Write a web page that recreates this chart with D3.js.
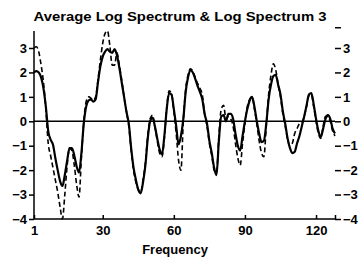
<!DOCTYPE html>
<html>
<head>
<meta charset="utf-8">
<script src="https://cdn.jsdelivr.net/npm/d3@7"></script>
<style>
  body { margin: 0; background: #fff; }
  text { font-family: Arial, "Liberation Sans", sans-serif; font-weight: bold; fill: #000; }
</style>
</head>
<body>
<div id="chart"></div>
<script>
// average log spectrum (solid), frequency 1..128
const avgSpectrum = [
  2.0, 2.05, 2.0, 1.8, 1.35, 0.6, -0.4, -0.75, -0.95, -1.5,
  -2.0, -2.45, -2.65, -2.2, -1.6, -1.1, -1.1, -1.4, -1.85, -2.1,
  -1.3, -0.1, 0.6, 0.85, 0.9, 0.8, 0.9, 1.6, 2.25, 2.65,
  2.85, 2.95, 2.85, 2.8, 2.95, 2.7, 2.2, 1.6, 1.0, 0.4,
  -0.1, -1.1, -1.9, -2.4, -2.8, -2.95, -2.5, -1.8, -0.7, 0.0,
  0.15, -0.2, -0.7, -1.15, -1.35, -0.6, 0.5, 1.15, 1.1, 0.5,
  -0.2, -0.95, -0.6, 0.1, 1.2, 1.8, 2.1, 2.0, 1.75, 1.45,
  1.2, 0.9, 0.3, -0.1, -0.8, -1.3, -1.9, -2.2, -0.8, 0.2,
  0.25, 0.0, 0.3, 0.3, 0.1, -0.5, -1.0, -1.2, -0.6, 0.0,
  0.5, 0.85, 1.0, 0.6, 0.0, -0.5, -0.85, -0.8, -0.1, 0.9,
  1.5, 1.85, 1.9, 1.5, 1.1, 0.4, -0.1, -0.7, -1.1, -1.3,
  -1.25, -0.9, -0.6, -0.2, 0.2, 0.65, 1.1, 1.15, 0.7, 0.1,
  -0.4, -0.65, -0.3, 0.1, 0.25, 0.1, -0.3, -0.5
];
// log spectrum 3 (dashed)
const logSpectrum3 = [
  3.0, 3.05, 2.85, 2.3, 1.6, 0.5, -0.9, -1.4, -1.9, -2.4,
  -2.9, -3.5, -4.0, -3.0, -1.8, -1.1, -1.2, -1.8, -2.6, -3.1,
  -1.5, 0.0, 0.8, 1.0, 0.95, 0.85, 1.0, 1.7, 2.5, 3.2,
  3.6, 3.7, 3.1, 2.3, 2.3, 2.8, 2.3, 1.7, 1.0, 0.4,
  -0.2, -1.2, -2.0, -2.5, -2.8, -2.9, -2.4, -1.7, -0.6, 0.1,
  0.25, -0.2, -0.8, -1.3, -1.45, -0.7, 0.55, 1.25, 1.15, 0.4,
  -0.5, -1.6, -2.0, 0.0, 1.3, 1.9, 2.15, 2.05, 1.8, 1.55,
  1.35, 1.1, 0.3, -0.2, -0.9, -1.4, -2.0, -2.1, -0.6, 0.5,
  0.65, 0.1, 0.2, 0.1, -0.2, -0.9, -1.5, -1.8, -0.9, -0.1,
  0.6, 0.9, 1.0, 0.5, -0.1, -0.8, -1.3, -1.45, -0.2, 1.1,
  1.9, 2.35, 2.1, 1.5, 1.0, 0.3, -0.2, -0.75, -1.0, -0.9,
  -0.5, -0.3, -0.1, -0.05, 0.2, 0.6, 1.05, 1.1, 0.6, 0.0,
  -0.5, -0.7, -0.2, 0.2, 0.2, 0.0, -0.4, -0.6
];
const xTicks = [1, 30, 60, 90, 120, 128];
const xTickLabels = ["1", "30", "60", "90", "120", ""];
const yTicks = [3, 2, 1, 0, -1, -2, -3, -4];
const titleText = "Average Log Spectrum & Log Spectrum 3";
const xTitle = "Frequency";

const width = 360, height = 263;
const margin = {left: 34, right: 25, top: 31, bottom: 44};

const svg = d3.select("#chart").append("svg")
  .attr("width", width)
  .attr("height", height);

const x = d3.scaleLinear().domain([1, 128]).range([margin.left, width - margin.right]);
const y = d3.scaleLinear().domain([-4, 3]).range([219, 48]);

// title
svg.append("text")
  .attr("x", 180)
  .attr("y", 21)
  .attr("text-anchor", "middle")
  .style("font-size", "13.5px")
  .attr("textLength", 293)
  .attr("lengthAdjust", "spacingAndGlyphs")
  .text(titleText);

// left axis
const leftAxis = svg.append("g")
  .attr("transform", `translate(${margin.left},0)`)
  .call(d3.axisLeft(y).tickValues(yTicks).tickSize(5).tickPadding(2).tickFormat(d3.format("d")));
leftAxis.select(".domain").attr("d", `M0,${y(3.7)}V${y(-4)}`).attr("stroke-width", 1.5);
leftAxis.selectAll(".tick line").attr("stroke-width", 1.5);
leftAxis.selectAll("text").style("font-size", "13px").style("font-family", "Arial, 'Liberation Sans', sans-serif");

// right ticks only (no line)
const rightAxis = svg.append("g")
  .attr("transform", `translate(${x(128)},0)`)
  .call(d3.axisRight(y).tickValues(yTicks.concat([3.85])).tickSize(6).tickPadding(2)
    .tickFormat(d => d > 3.5 ? "" : d3.format("d")(d)));
rightAxis.select(".domain").remove();
rightAxis.selectAll(".tick line").attr("stroke-width", 1.5);
rightAxis.selectAll("text").style("font-size", "13px").style("font-family", "Arial, 'Liberation Sans', sans-serif");

// bottom axis, ticks pointing up
const bottomAxis = svg.append("g")
  .attr("transform", `translate(0,${y(-4)})`)
  .call(d3.axisBottom(x).tickValues(xTicks).tickSize(-4).tickPadding(7)
    .tickFormat((d, i) => xTickLabels[i]));
bottomAxis.select(".domain").attr("d", `M${x(1)},0H${x(128)}`).attr("stroke-width", 1.5);
bottomAxis.selectAll(".tick line").attr("stroke-width", 1.5);
bottomAxis.selectAll("text").style("font-size", "13px").style("font-family", "Arial, 'Liberation Sans', sans-serif");

svg.append("text")
  .attr("x", 175)
  .attr("y", 254)
  .attr("text-anchor", "middle")
  .style("font-size", "13px")
  .text(xTitle);

// zero line
svg.append("line")
  .attr("x1", x(1)).attr("x2", x(128))
  .attr("y1", y(0)).attr("y2", y(0))
  .attr("stroke", "#000")
  .attr("stroke-width", 1.5);

const line = d3.line()
  .x((d, i) => x(i + 1))
  .y(d => y(d))
  .curve(d3.curveMonotoneX);

svg.append("path")
  .datum(logSpectrum3)
  .attr("fill", "none")
  .attr("stroke", "#000")
  .attr("stroke-width", 1.6)
  .attr("stroke-dasharray", "5,3")
  .attr("d", line);

svg.append("path")
  .datum(avgSpectrum)
  .attr("fill", "none")
  .attr("stroke", "#000")
  .attr("stroke-width", 2.2)
  .attr("d", line);
</script>
</body>
</html>
